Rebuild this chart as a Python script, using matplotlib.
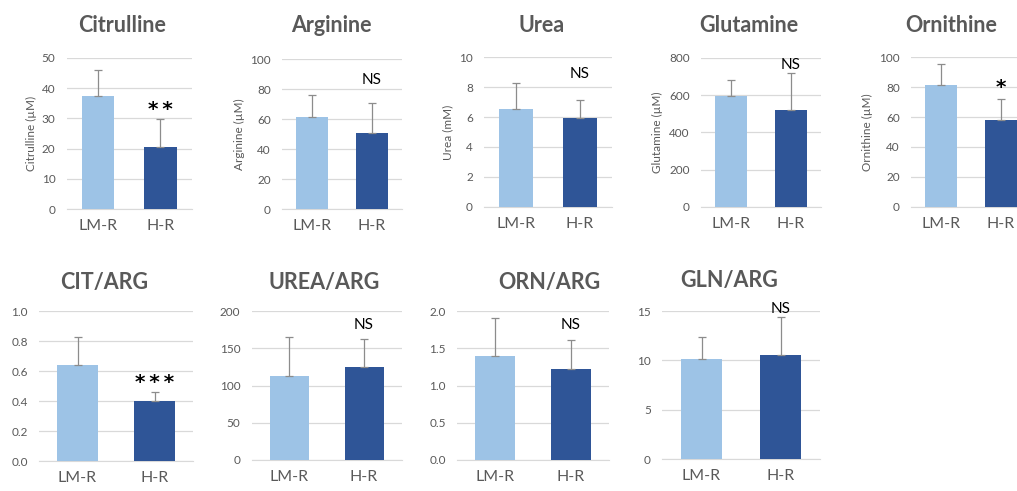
import matplotlib
matplotlib.use("Agg")
import matplotlib.pyplot as plt

groups = ["LM-R", "H-R"]
titles = ["Citrulline", "Arginine", "Urea", "Glutamine", "Ornithine",
          "CIT/ARG", "UREA/ARG", "ORN/ARG", "GLN/ARG"]
ylabels = ["Citrulline (µM)", "Arginine (µM)", "Urea (mM)", "Glutamine (µM)", "Ornithine (µM)",
           None, None, None, None]
means = [[37.5, 20.5], [61.5, 51.0], [6.5, 5.9], [597, 523], [81, 58],
         [0.64, 0.40], [113, 125], [1.40, 1.22], [10.1, 10.5]]
sds = [[8.5, 9.3], [14.5, 20.0], [1.75, 1.25], [83, 197], [14, 14],
       [0.19, 0.06], [52, 38], [0.50, 0.39], [2.3, 3.9]]
signif = ["*\u2009*", "NS", "NS", "NS", "*", "*\u2009*\u2009*", "NS", "NS", "NS"]
sig_y = [33, 86, 8.9, 765, 79.5, 0.52, 181, 1.81, 15.2]
ymax = [50, 100, 10, 800, 100, 1.0, 200, 2.0, 15]
ystep = [10, 20, 2, 200, 20, 0.2, 50, 0.5, 5]
yfmt = ["{:.0f}"] * 5 + ["{:.1f}", "{:.0f}", "{:.1f}", "{:.0f}"]

W, H = 1017, 491
fig = plt.figure(figsize=(W / 100, H / 100), dpi=100)
plt.rcParams["font.family"] = ["Lato", "DejaVu Sans"]

# pixel boxes: (x_left, x_right, y_zero, y_top)
boxes = [(66.5, 191.5, 209, 58), (282, 402, 209, 59), (484, 612, 207, 57),
         (701, 821, 207, 58), (911, 1031, 207, 57),
         (39, 193, 461, 311), (251.5, 401.5, 460, 311), (457, 609, 460, 311),
         (662, 820, 459, 311)]
title_pos = [(122, 25), (331, 25), (542, 25), (749, 25), (951, 25),
             (104, 282), (324, 282), (549, 282), (729, 280)]
ylabel_x = [31, 239, 448, 657, 867]

colors = ["#9DC3E6", "#2F5597"]
grey = "#595959"

for i in range(9):
    xl, xr, y0, y1 = boxes[i]
    ax = fig.add_axes([xl / W, 1 - y0 / H, (xr - xl) / W, (y0 - y1) / H])
    x = [0, 1]
    ax.bar(x, means[i], width=0.52, color=colors, zorder=3)
    ax.errorbar(x, means[i], yerr=[[0, 0], sds[i]], fmt="none", ecolor="#8C8C8C",
                elinewidth=0.9, capsize=3, capthick=0.9, zorder=4)
    ax.set_xlim(-0.5, 1.5)
    ax.set_ylim(0, ymax[i])
    n = int(round(ymax[i] / ystep[i]))
    ticks = [k * ystep[i] for k in range(n + 1)]
    ax.set_yticks(ticks)
    ax.set_yticklabels([yfmt[i].format(t) for t in ticks])
    ax.set_xticks(x)
    ax.set_xticklabels(groups)
    ax.grid(axis="y", color="#D9D9D9", linewidth=0.9, zorder=0)
    for s in ["top", "right", "left"]:
        ax.spines[s].set_visible(False)
    ax.spines["bottom"].set_color("#D9D9D9")
    ax.tick_params(axis="y", length=0, labelsize=8.5, labelcolor=grey, pad=8)
    ax.tick_params(axis="x", length=0, labelsize=11.5, labelcolor=grey, pad=7)
    is_star = "*" in signif[i]
    if is_star:
        ax.text(1, sig_y[i], signif[i], ha="center", va="center",
                fontsize=14.5, fontweight="bold", family="DejaVu Sans",
                color="black", zorder=5)
    else:
        ax.text(1, sig_y[i], signif[i], ha="center", va="center",
                fontsize=11, color="black", zorder=5)
    tx, ty = title_pos[i]
    fig.text(tx / W, 1 - ty / H, titles[i], ha="center", va="center",
             fontsize=15.5, fontweight="bold", color=grey)
    if ylabels[i]:
        fig.text(ylabel_x[i] / W, 1 - ((y0 + y1) / 2) / H, ylabels[i], rotation=90,
                 ha="center", va="center", fontsize=8.5, color=grey)

fig.savefig("out.png", dpi=100)
